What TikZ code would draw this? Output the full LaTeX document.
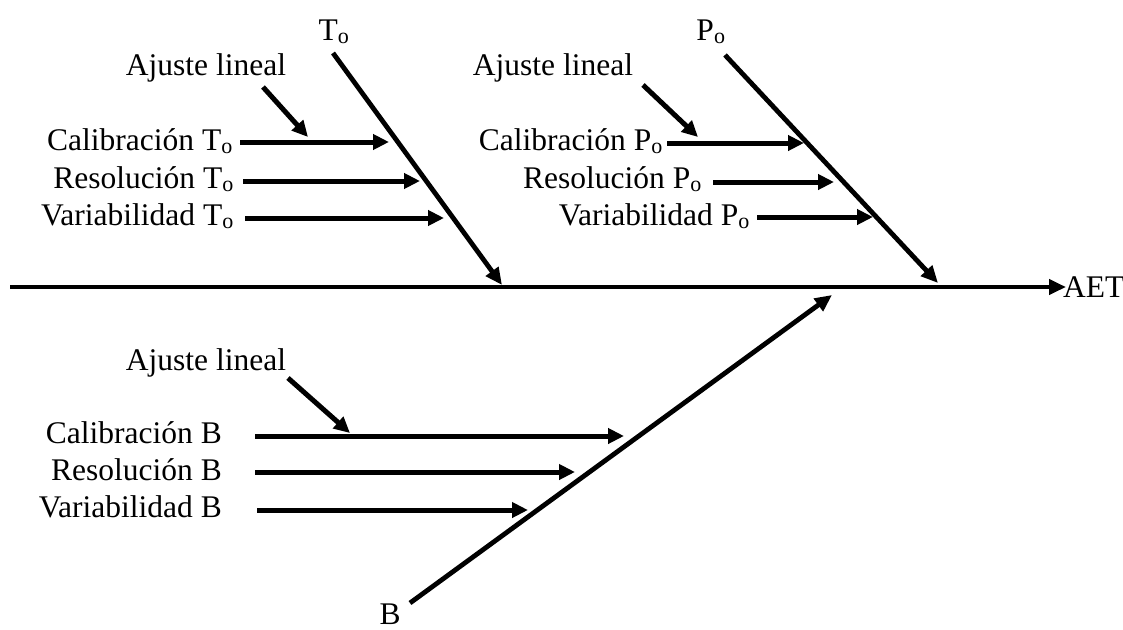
\documentclass[tikz,border=0pt]{standalone}
\usepackage{fontspec}
\setmainfont{Liberation Serif}
\usetikzlibrary{arrows.meta}
\begin{document}
\begin{tikzpicture}[x=1pt,y=-1pt,
  lbl/.style={inner sep=0pt,font=\fontsize{31.5}{38}\selectfont},
  bone/.style={line width=4.8pt,-{Triangle[length=17pt,width=15pt]}},
  twig/.style={line width=5pt,-{Triangle[length=16pt,width=15pt]}}]
\useasboundingbox (0,0) rectangle (1123,629);
% labels
\node[lbl,anchor=base] (lT) at (334,40) {T\textsubscript{o}};
\node[lbl,anchor=base] (lP) at (711,40) {P\textsubscript{o}};
\node[lbl,anchor=base] (lB) at (390,624) {B};
\node[lbl,anchor=base west] (aet) at (1063,297) {AET};
\node[lbl,anchor=base] (ajT) at (206,75) {Ajuste lineal};
\node[lbl,anchor=base] (ajP) at (553,75) {Ajuste lineal};
\node[lbl,anchor=base] (ajB) at (206,370) {Ajuste lineal};
\node[lbl,anchor=base east] (calT) at (233,150) {Calibración T\textsubscript{o}};
\node[lbl,anchor=base east] (resT) at (234,188) {Resolución T\textsubscript{o}};
\node[lbl,anchor=base east] (varT) at (234,225) {Variabilidad T\textsubscript{o}};
\node[lbl,anchor=base east] (calP) at (663,150) {Calibración P\textsubscript{o}};
\node[lbl,anchor=base east] (resP) at (702,188) {Resolución P\textsubscript{o}};
\node[lbl,anchor=base east] (varP) at (750,225) {Variabilidad P\textsubscript{o}};
\node[lbl,anchor=base east] (calB) at (222,443) {Calibración B};
\node[lbl,anchor=base east] (resB) at (222,480) {Resolución B};
\node[lbl,anchor=base east] (varB) at (222,517) {Variabilidad B};
% coordinates
\coordinate (s0) at (10,287);
\coordinate (s1) at (1066,287);
\coordinate (t0) at (333,53);  \coordinate (t1) at (502,285);
\coordinate (p0) at (725,55);  \coordinate (p1) at (938,283);
\coordinate (b0) at (410,603); \coordinate (b1) at (832,295);
\coordinate (ct0) at (240,142); \coordinate (ct1) at (389,142);
\coordinate (rt0) at (243,181); \coordinate (rt1) at (420,181);
\coordinate (vt0) at (245,218); \coordinate (vt1) at (444,218);
\coordinate (at0) at (263,87);  \coordinate (at1) at (308,137);
\coordinate (cp0) at (667,143); \coordinate (cp1) at (804,143);
\coordinate (rp0) at (713,182); \coordinate (rp1) at (834,182);
\coordinate (vp0) at (757,217); \coordinate (vp1) at (873,217);
\coordinate (ap0) at (643,85);  \coordinate (ap1) at (698,137);
\coordinate (cb0) at (255,436); \coordinate (cb1) at (624,436);
\coordinate (rb0) at (255,472); \coordinate (rb1) at (575,472);
\coordinate (vb0) at (257,510); \coordinate (vb1) at (528,510);
\coordinate (ab0) at (288,378); \coordinate (ab1) at (350,433);
% spine and bones
\draw[bone] (s0) -- (s1);
\draw[bone] (t0) -- (t1);
\draw[bone] (p0) -- (p1);
\draw[bone] (b0) -- (b1);
% twigs
\foreach \a in {ct,rt,vt,at,cp,rp,vp,ap,cb,rb,vb,ab}
  \draw[twig] (\a0) -- (\a1);
\end{tikzpicture}
\end{document}
